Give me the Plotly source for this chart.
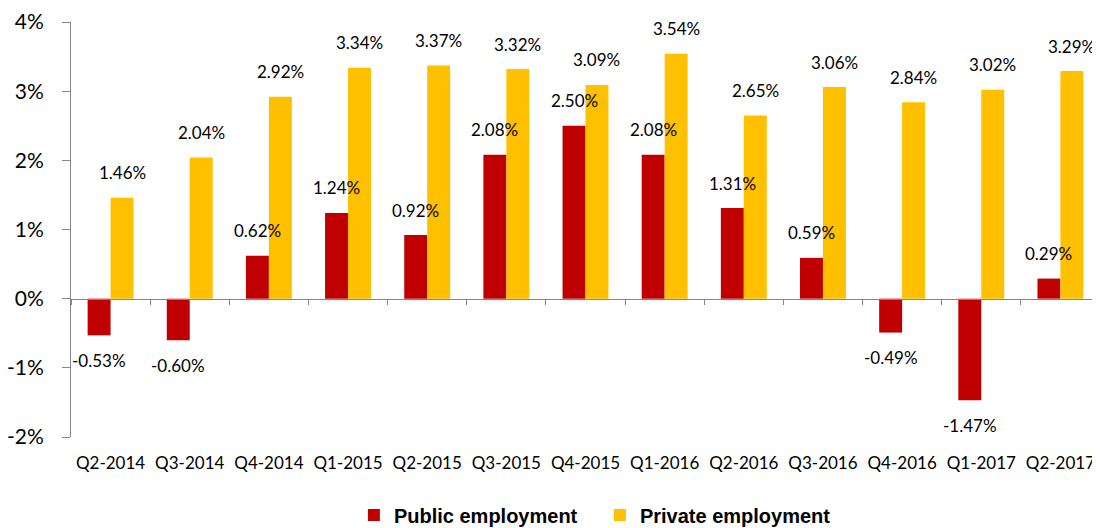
import plotly.graph_objects as go

categories = ["Q2-2014", "Q3-2014", "Q4-2014", "Q1-2015", "Q2-2015", "Q3-2015", "Q4-2015",
              "Q1-2016", "Q2-2016", "Q3-2016", "Q4-2016", "Q1-2017", "Q2-2017"]
public_emp = [-0.53, -0.60, 0.62, 1.24, 0.92, 2.08, 2.50, 2.08, 1.31, 0.59, -0.49, -1.47, 0.29]
private_emp = [1.46, 2.04, 2.92, 3.34, 3.37, 3.32, 3.09, 3.54, 2.65, 3.06, 2.84, 3.02, 3.29]
series_names = ["Public employment", "Private employment"]
series_colors = ["#C00000", "#FFC000"]
y_tickvals = [-2, -1, 0, 1, 2, 3, 4]
y_ticktext = ["-2%", "-1%", "0%", "1%", "2%", "3%", "4%"]

# the page body adds an 8px offset, so the figure is sized to the visible area
W, H = 1092, 520
ML, MR, MT, MB = 63, 0, 14, 91
Y_RANGE = [-2, 4]
X_RANGE = [-0.5, len(categories) - 0.5]
BARGAP = 0.42
LABEL_FONT = "Lato, Liberation Sans, Arial, sans-serif"

fig = go.Figure()
for name, vals, col in zip(series_names, [public_emp, private_emp], series_colors):
    fig.add_trace(go.Bar(x=categories, y=vals, name=name, marker=dict(color=col, line=dict(width=0)),
                         hoverinfo="x+y"))

# dummy trace to carry the zero-line axis with boundary ticks
fig.add_trace(go.Scatter(x=categories, y=[None] * len(categories), xaxis="x2", yaxis="y",
                         showlegend=False, hoverinfo="skip", mode="markers"))

# data labels (outside end, offset like the original)
plot_w = W - ML - MR
cat_px = plot_w / (X_RANGE[1] - X_RANGE[0])
bar_px = cat_px * (1 - BARGAP) / 2
annotations = []
for k, vals in enumerate([public_emp, private_emp]):
    xs = (k - 0.5) * bar_px
    for c, v in zip(categories, vals):
        annotations.append(dict(
            x=c, y=v, xref="x", yref="y", text=f"{v:.2f}%", showarrow=False,
            xshift=xs, yshift=25 if v >= 0 else -25, yanchor="middle", xanchor="center",
            font=dict(family=LABEL_FONT, size=17, color="#000000")))

zero_pos = (0 - Y_RANGE[0]) / (Y_RANGE[1] - Y_RANGE[0])

fig.update_layout(
    template="none",
    width=W, height=H,
    margin=dict(l=ML, r=MR, t=MT, b=MB, pad=0, autoexpand=False),
    paper_bgcolor="white", plot_bgcolor="white",
    font=dict(family=LABEL_FONT, color="#000000"),
    barmode="group", bargap=BARGAP, bargroupgap=0,
    annotations=annotations,
    showlegend=True,
    legend=dict(orientation="h", x=0.514, xanchor="center", y=-0.188, yanchor="middle",
                font=dict(family="Liberation Sans, Arial, sans-serif", size=20, color="#000000", weight="bold"),
                entrywidth=201, itemwidth=30, traceorder="normal", bgcolor="rgba(0,0,0,0)"),
    xaxis=dict(type="category", range=X_RANGE, showline=False, ticks="", showgrid=False,
               zeroline=False, automargin=False,
               tickfont=dict(family=LABEL_FONT, size=17, color="#000000"),
               ticklabelstandoff=14),
    xaxis2=dict(type="category", range=X_RANGE, overlaying="x", anchor="free", position=zero_pos,
                side="bottom", showline=True, linecolor="#868686", linewidth=1,
                ticks="outside", tickson="boundaries", ticklen=5, tickcolor="#868686", tickwidth=1,
                showticklabels=False, showgrid=False, zeroline=False, automargin=False,
                categoryorder="array", categoryarray=categories),
    yaxis=dict(range=Y_RANGE, tickvals=y_tickvals, ticktext=y_ticktext, showgrid=False,
               zeroline=False, showline=True, linecolor="#868686", linewidth=1, automargin=False,
               ticks="outside", ticklen=8, tickcolor="#868686", tickwidth=1,
               tickfont=dict(family=LABEL_FONT, size=21, color="#000000"), ticklabelstandoff=14),
)

fig.write_html("out.html")
